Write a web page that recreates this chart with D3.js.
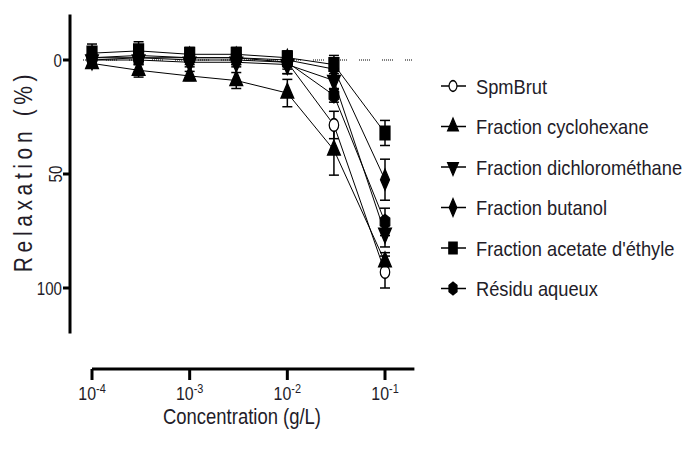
<!DOCTYPE html>
<html><head><meta charset="utf-8">
<script src="https://cdn.jsdelivr.net/npm/d3@7"></script>
<style>
body{margin:0;background:#fff;}
text{font-family:"Liberation Sans",Arial,sans-serif;fill:#231c28;}
</style></head>
<body><svg id="c" width="695" height="450"></svg>
<script>
// ---- data ----
const concentrations = [1e-4, 3e-4, 1e-3, 3e-3, 1e-2, 3e-2, 1e-1];
const seriesNames = ["SpmBrut","Fraction cyclohexane","Fraction dichlorométhane","Fraction butanol","Fraction acetate d'éthyle","Résidu aqueux"];
const spmBrut        = [0, -1, 0, 0, 1, 28.5, 93];
const spmBrutErr     = [2, 2, 2, 2, 3, 6, 7];
const cyclohexane    = [1.5, 4.5, 7, 9, 14.5, 39.5, 88.5];
const cyclohexaneErr = [2, 3, 2, 3.5, 6, 11, 4];
const dichloro       = [0, 0, 1, 1, 2, 9, 76];
const dichloroErr    = [2, 2, 2, 2, 4, 4, 6];
const butanol        = [-1, -2, -1, -1, 0, 4, 52.5];
const butanolErr     = [2, 2, 2, 2, 3, 4, 9];
const acetate        = [-3, -4, -2.5, -2.5, -1, 2, 32];
const acetateErr     = [4, 4, 3, 3, 2, 4, 5.5];
const residu         = [-1, -1, -1, -1, 1, 15.5, 71];
const residuErr      = [2, 3, 2, 3, 5, 3, 6];
const xTickValues = [1e-4, 1e-3, 1e-2, 1e-1];
const xTickExps   = ["-4", "-3", "-2", "-1"];
const yTickValues = [0, 50, 100];
const yTickLabels = ["0", "50", "100"];
const xTitle = "Concentration (g/L)";
const yTitle = "Relaxation (%)";

const values = [spmBrut, cyclohexane, dichloro, butanol, acetate, residu];
const errors = [spmBrutErr, cyclohexaneErr, dichloroErr, butanolErr, acetateErr, residuErr];

// ---- symbols ----
const hexagon = {draw(ctx, size){
  const r = Math.sqrt(size / (1.5*Math.sqrt(3)));
  for(let i=0;i<6;i++){const a=Math.PI/6+i*Math.PI/3; const px=r*Math.cos(a), py=r*Math.sin(a); if(i===0)ctx.moveTo(px,py); else ctx.lineTo(px,py);}
  ctx.closePath();
}};
const triDown = {draw(ctx,size){ const yy=-Math.sqrt(size/(3*Math.sqrt(3))); const xx=Math.sqrt(size/Math.sqrt(3)); ctx.moveTo(0,-2*yy); ctx.lineTo(-xx,yy); ctx.lineTo(xx,yy); ctx.closePath(); }};
const symTypes = [d3.symbolCircle, d3.symbolTriangle, triDown, d3.symbolDiamond, d3.symbolSquare, hexagon];
const symSizes = [70, 70, 70, 70, 100, 80];
const symFill = ["#fff","#000","#000","#000","#000","#000"];

// ---- scales ----
const x = d3.scaleLog().domain([1e-4, 1e-1]).range([92, 385]);
const y = d3.scaleLinear().domain([0, 100]).range([60, 288]);
const svg = d3.select("#c");
const SX = 0.84; // narrow type

// zero dotted line
svg.append("line").attr("x1", 83).attr("x2", 412).attr("y1", y(0)).attr("y2", y(0))
  .attr("stroke", "#000").attr("stroke-width", 1)
  .attr("stroke-dasharray", "1,1,1,1,1,1,1,1,1,1,1,12");

// y axis (offset)
const yAxis = svg.append("g");
yAxis.append("line").attr("x1",70).attr("x2",70).attr("y1",y(-20)).attr("y2",y(120)).attr("stroke","#000").attr("stroke-width",3);
yTickValues.forEach((v,i)=>{
  yAxis.append("line").attr("x1",63).attr("x2",70).attr("y1",y(v)).attr("y2",y(v)).attr("stroke","#000").attr("stroke-width",3);
  if(i===1){
    yAxis.append("text").attr("transform",`translate(62,${y(v)}) rotate(-90) scale(${SX},1)`).attr("text-anchor","middle")
      .attr("font-size",18).text(yTickLabels[i]);
  } else {
    yAxis.append("text").attr("transform",`translate(62,${y(v)+6.5}) scale(${SX},1)`).attr("text-anchor","end").attr("font-size",18).text(yTickLabels[i]);
  }
});
svg.append("text").attr("transform",`translate(32,171) rotate(-90) scale(${SX},1)`).attr("text-anchor","middle")
  .attr("font-size",25).attr("letter-spacing",5.5).text(yTitle);

// x axis
const xAxisY = 369;
const xAxis = svg.append("g");
xAxis.append("line").attr("x1",x(1e-4)).attr("x2",x(0.2)).attr("y1",xAxisY).attr("y2",xAxisY).attr("stroke","#000").attr("stroke-width",3);
xTickValues.forEach((v,i)=>{
  xAxis.append("line").attr("x1",x(v)).attr("x2",x(v)).attr("y1",xAxisY).attr("y2",xAxisY+11).attr("stroke","#000").attr("stroke-width",3);
  const t = xAxis.append("text").attr("transform",`translate(${x(v)},400) scale(${SX},1)`).attr("text-anchor","middle").attr("font-size",19);
  t.append("tspan").text("10");
  t.append("tspan").attr("dy",-7).attr("font-size",13).text(xTickExps[i]);
});
svg.append("text").attr("transform",`translate(242,424) scale(${SX},1)`).attr("text-anchor","middle").attr("font-size",22).text(xTitle);

// series lines
const line = d3.line().x(d=>x(d[0])).y(d=>y(d[1]));
values.forEach((vals)=>{
  svg.append("path").datum(concentrations.map((c,i)=>[c,vals[i]]))
    .attr("d",line).attr("fill","none").attr("stroke","#000").attr("stroke-width",1);
});
// error bars
values.forEach((vals,s)=>{
  const g = svg.append("g");
  concentrations.forEach((c,i)=>{
    const e = errors[s][i], cx = x(c);
    g.append("line").attr("x1",cx).attr("x2",cx).attr("y1",y(vals[i]-e)).attr("y2",y(vals[i]+e)).attr("stroke","#000").attr("stroke-width",1.5);
    [vals[i]-e, vals[i]+e].forEach(v=>g.append("line").attr("x1",cx-5).attr("x2",cx+5).attr("y1",y(v)).attr("y2",y(v)).attr("stroke","#000").attr("stroke-width",1.5));
  });
});
// markers
values.forEach((vals,s)=>{
  const sym = d3.symbol().type(symTypes[s]).size(symSizes[s]);
  svg.append("g").selectAll("path").data(concentrations).join("path")
    .attr("transform",(c,i)=>`translate(${x(c)},${y(vals[i])}) scale(1,1.35)`)
    .attr("d",sym).attr("fill",symFill[s]).attr("stroke","#000").attr("stroke-width",1.2);
});

// legend
const legY0 = 86, legDy = 40.5;
seriesNames.forEach((n,s)=>{
  const ly = legY0 + s*legDy;
  svg.append("line").attr("x1",441).attr("x2",466).attr("y1",ly).attr("y2",ly).attr("stroke","#000").attr("stroke-width",1.5);
  svg.append("path").attr("transform",`translate(453,${ly}) scale(1,1.35)`)
    .attr("d",d3.symbol().type(symTypes[s]).size(symSizes[s]*0.7)).attr("fill",symFill[s]).attr("stroke","#000").attr("stroke-width",1.2);
  svg.append("text").attr("transform",`translate(476,${ly+7.5}) scale(0.87,1)`).attr("font-size",21).text(n);
});
</script></body></html>
